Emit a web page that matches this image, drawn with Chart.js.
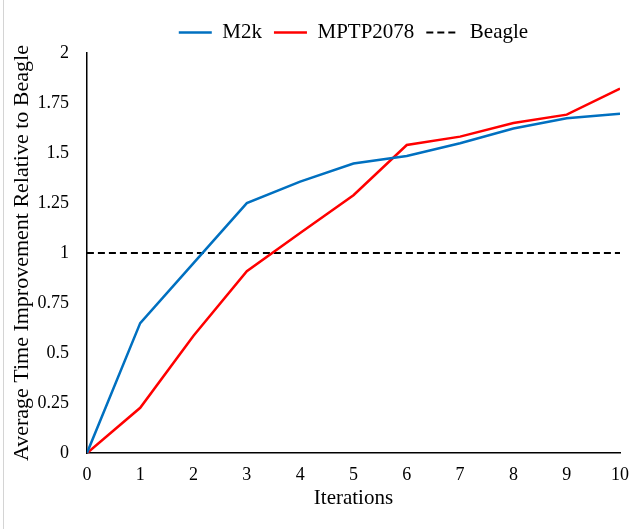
<!DOCTYPE html>
<html>
<head>
<meta charset="utf-8">
<script src="https://cdn.jsdelivr.net/npm/chart.js@4.4.1/dist/chart.umd.min.js"></script>
<style>
  html, body { margin: 0; padding: 0; background: #fff; }
  #wrap { position: relative; width: 631px; height: 529px; }
  #wrap::before { content: ""; position: absolute; left: 3px; top: 0; width: 1px; height: 529px; background: #d4d4d4; }
</style>
</head>
<body>
<div id="wrap"><canvas id="chart" width="631" height="529"></canvas></div>
<script>
// x = iteration number
const iterations = [0, 1, 2, 3, 4, 5, 6, 7, 8, 9, 10];
const m2k = [0, 0.65, 0.95, 1.25, 1.357, 1.448, 1.485, 1.549, 1.623, 1.674, 1.697];
const mptp2078 = [0, 0.227, 0.587, 0.91, 1.1, 1.289, 1.54, 1.582, 1.65, 1.692, 1.822];
const beagle = [1, 1, 1, 1, 1, 1, 1, 1, 1, 1, 1];
const yTicks = [0, 0.25, 0.5, 0.75, 1, 1.25, 1.5, 1.75, 2];

const font = "'Liberation Serif', 'Times New Roman', serif";

function toPoints(ys) {
  return iterations.map((x, i) => ({ x: x, y: ys[i] }));
}

new Chart(document.getElementById("chart"), {
  type: "line",
  data: {
    datasets: [
      {
        label: "M2k",
        data: toPoints(m2k),
        borderColor: "#0070C0",
        borderWidth: 2.5,
        pointRadius: 0,
        pointStyle: "line",
        tension: 0,
      },
      {
        label: "MPTP2078",
        data: toPoints(mptp2078),
        borderColor: "#FF0000",
        borderWidth: 2.5,
        pointRadius: 0,
        pointStyle: "line",
        tension: 0,
      },
      {
        label: "Beagle",
        data: toPoints(beagle),
        borderColor: "#000000",
        borderWidth: 2,
        borderDash: [7, 4],
        pointRadius: 0,
        pointStyle: "line",
        tension: 0,
      },
    ],
  },
  options: {
    responsive: false,
    animation: false,
    layout: { autoPadding: false, padding: { top: 10, right: 0, bottom: 18, left: 9 } },
    plugins: {
      tooltip: { enabled: false },
      legend: {
        position: "top",
        fullSize: false,
        labels: {
          usePointStyle: true,
          pointStyleWidth: 33,
          boxHeight: 21,
          padding: 12,
          color: "#000",
          font: { family: font, size: 21 },
          // point-style labels lose the dash, so rebuild them from the datasets
          generateLabels: (chart) =>
            chart.data.datasets.map((ds, i) => ({
              text: ds.label,
              datasetIndex: i,
              pointStyle: "line",
              strokeStyle: ds.borderColor,
              fillStyle: ds.borderColor,
              lineWidth: ds.borderWidth,
              lineDash: ds.borderDash || [],
              hidden: false,
            })),
        },
      },
    },
    scales: {
      x: {
        type: "linear",
        min: 0,
        max: 10,
        grid: { display: false, drawTicks: false },
        border: { display: true, color: "#000", width: 1.5 },
        // tick padding would otherwise also be added to the right edge
        afterFit: (scale) => {
          scale.paddingRight = 11;
        },
        ticks: {
          stepSize: 1,
          padding: 11,
          maxRotation: 0,
          color: "#000",
          font: { family: font, size: 18 },
        },
        title: {
          display: true,
          text: "Iterations",
          color: "#000",
          padding: { top: -11, bottom: 0 },
          font: { family: font, size: 21 },
        },
      },
      y: {
        min: 0,
        max: 2,
        afterBuildTicks: (axis) => {
          axis.ticks = yTicks.map((v) => ({ value: v }));
        },
        grid: { display: false, drawTicks: false },
        border: { display: true, color: "#000", width: 1.5 },
        ticks: {
          padding: 18,
          color: "#000",
          font: { family: font, size: 18 },
          callback: (v) => String(v),
        },
        title: {
          display: true,
          text: "Average Time Improvement Relative to Beagle",
          color: "#000",
          padding: { top: 0, bottom: -16 },
          font: { family: font, size: 22 },
        },
      },
    },
  },
});
</script>
</body>
</html>
